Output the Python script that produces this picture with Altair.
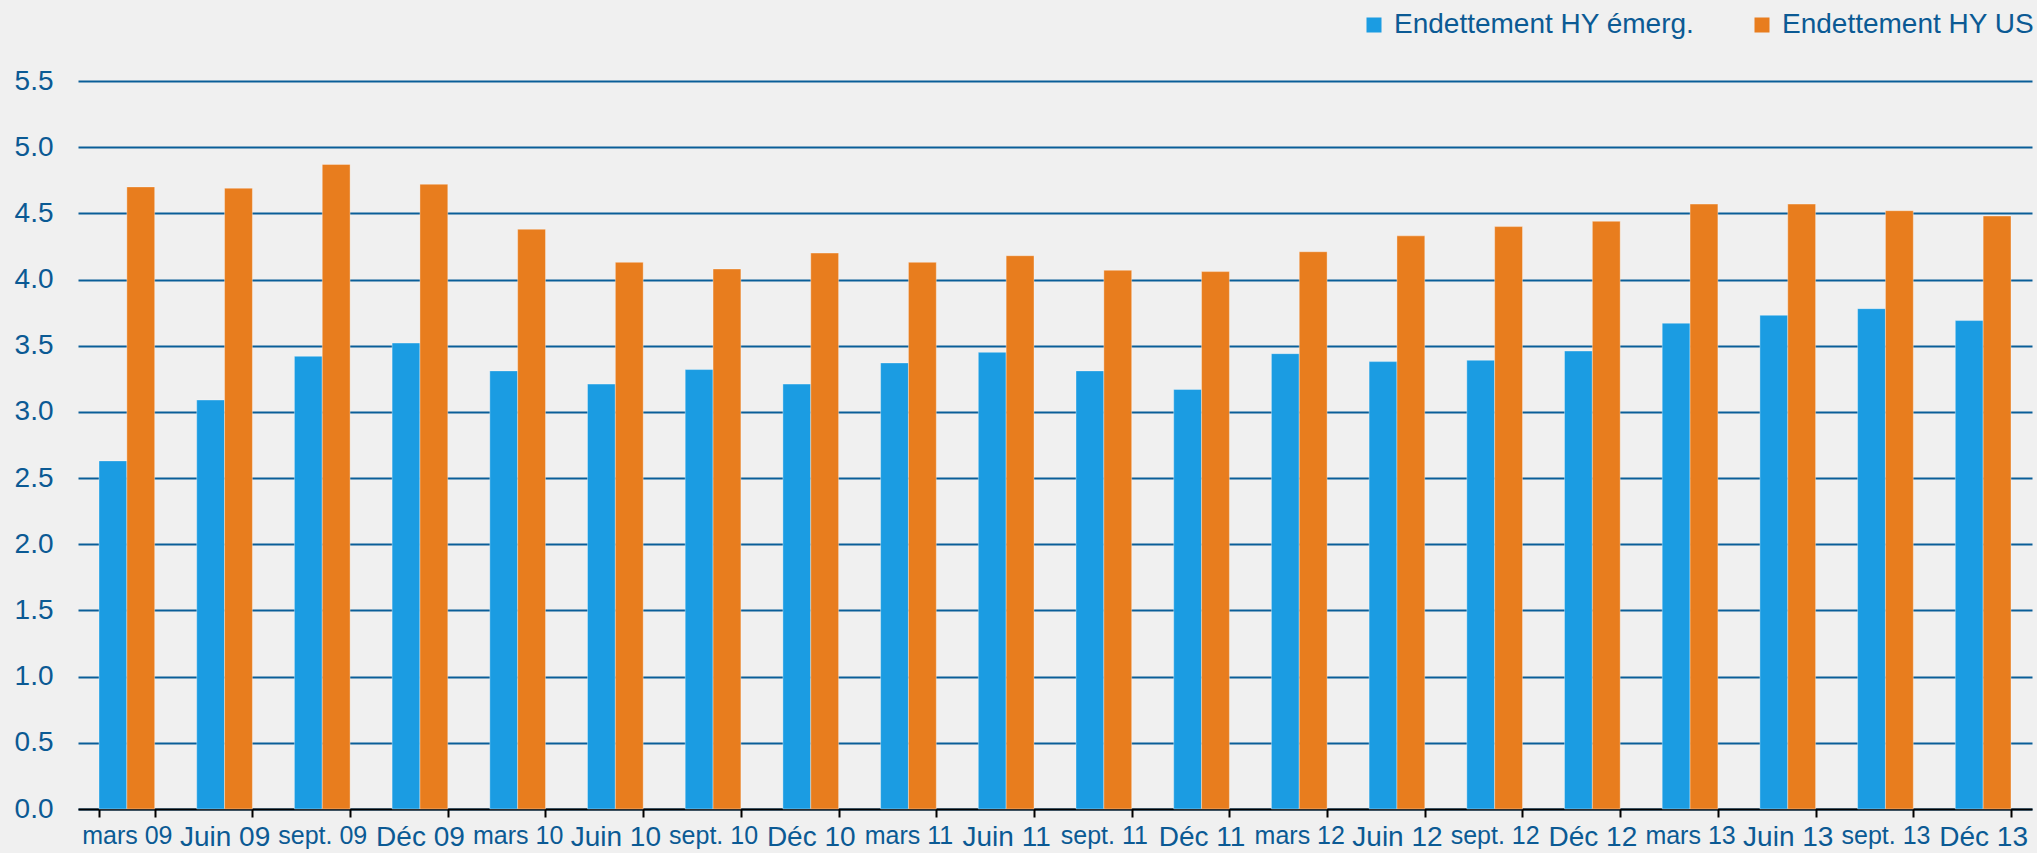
import altair as alt
import pandas as pd

# Quarterly periods (x axis)
periods = [
    "mars 09", "Juin 09", "sept. 09", "Déc 09",
    "mars 10", "Juin 10", "sept. 10", "Déc 10",
    "mars 11", "Juin 11", "sept. 11", "Déc 11",
    "mars 12", "Juin 12", "sept. 12", "Déc 12",
    "mars 13", "Juin 13", "sept. 13", "Déc 13",
]

series_names = ["Endettement HY émerg.", "Endettement HY US"]

# Leverage, emerging-market high yield
hy_emerg = [2.63, 3.09, 3.42, 3.52, 3.31, 3.21, 3.32, 3.21, 3.37, 3.45,
            3.31, 3.17, 3.44, 3.38, 3.39, 3.46, 3.67, 3.73, 3.78, 3.69]

# Leverage, US high yield
hy_us = [4.70, 4.69, 4.87, 4.72, 4.38, 4.13, 4.08, 4.20, 4.13, 4.18,
         4.07, 4.06, 4.21, 4.33, 4.40, 4.44, 4.57, 4.57, 4.52, 4.48]

y_ticks = [0.0, 0.5, 1.0, 1.5, 2.0, 2.5, 3.0, 3.5, 4.0, 4.5, 5.0, 5.5]

bar_colors = ["#1B9CE2", "#E87D1E"]
text_color = "#0B5A94"
grid_color = "#0A5E98"

rows = []
for p, a, b in zip(periods, hy_emerg, hy_us):
    rows.append({"period": p, "series": series_names[0], "value": a})
    rows.append({"period": p, "series": series_names[1], "value": b})
df = pd.DataFrame(rows)

font = "Liberation Sans"

bars = alt.Chart(df).mark_bar(
    stroke="white", strokeOpacity=0.35, strokeWidth=1
).encode(
    x=alt.X(
        "period:N",
        sort=periods,
        title=None,
        scale=alt.Scale(paddingInner=0.43, paddingOuter=0.215),
        axis=alt.Axis(
            tickBand="extent",
            domainColor="black",
            domainWidth=2,
            tickColor="black",
            tickWidth=2,
            tickSize=8,
            labelAngle=0,
            labelColor=text_color,
            labelFont=font,
            labelFontSize={
                "condition": {
                    "test": "indexof(datum.label, 'Juin') >= 0 || indexof(datum.label, 'Déc') >= 0",
                    "value": 28,
                },
                "value": 25,
            },
            labelPadding=6,
            labelOverlap=False,
            labelBound=False,
            labelLimit=300,
            grid=False,
        ),
    ),
    xOffset=alt.XOffset(
        "series:N",
        sort=series_names,
        scale=alt.Scale(paddingInner=0, paddingOuter=0),
    ),
    y=alt.Y(
        "value:Q",
        title=None,
        scale=alt.Scale(domain=[0, 5.5], nice=False, zero=True),
        axis=alt.Axis(
            values=y_ticks,
            format=".1f",
            domain=False,
            ticks=False,
            grid=True,
            gridColor=grid_color,
            gridWidth=2,
            labelColor=text_color,
            labelFont=font,
            labelFontSize=28,
            labelPadding=25,
        ),
    ),
    color=alt.Color(
        "series:N",
        sort=series_names,
        scale=alt.Scale(domain=series_names, range=bar_colors),
        legend=alt.Legend(
            title=None,
            orient="none",
            direction="horizontal",
            legendX=1282,
            legendY=-70,
            symbolType="square",
            symbolSize=225,
            symbolStrokeWidth=0,
            labelFont=font,
            labelFontSize=28,
            labelColor=text_color,
            labelOffset=6,
            labelLimit=400,
            columnPadding=53,
        ),
    ),
)

chart = bars.properties(
    width=1954,
    height=728,
    background="#F0F0F0",
    autosize=alt.AutoSizeParams(type="none"),
    padding={"left": 78, "top": 81, "right": 5, "bottom": 44},
).configure_view(
    stroke=None
)

chart.save("out.html", embed_options={"renderer": "svg", "actions": False})
